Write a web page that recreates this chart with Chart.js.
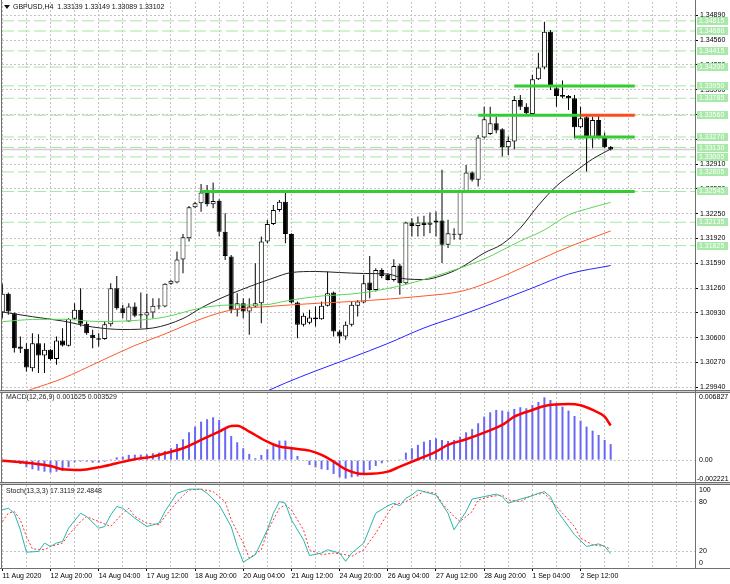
<!DOCTYPE html>
<html>
<head>
<meta charset="utf-8">
<script src="https://cdn.jsdelivr.net/npm/chart.js@4.4.0/dist/chart.umd.min.js"></script>
<style>
html,body{margin:0;padding:0;background:#fff;}
#wrap{position:relative;width:730px;height:584px;overflow:hidden;background:#fff;}
#wrap canvas{position:absolute;left:0;display:block;}
</style>
</head>
<body>
<div id="wrap">
  <canvas id="priceChart" width="730" height="391" style="top:0"></canvas>
  <canvas id="macdChart" width="730" height="92" style="top:391px"></canvas>
  <canvas id="stochChart" width="730" height="101" style="top:483px"></canvas>
</div>
<script>
// ---- data ----
const timeLabels = ["11 Aug 2020","12 Aug 20:00","14 Aug 04:00","17 Aug 12:00","18 Aug 20:00","20 Aug 04:00",
  "21 Aug 12:00","24 Aug 20:00","26 Aug 04:00","27 Aug 12:00","28 Aug 20:00","1 Sep 04:00","2 Sep 12:00"];
const labelEvery = 8; // bars between time labels

const opens = [
1.30935,1.31183,1.30926,1.30483,1.30452,1.30195,1.30527,1.30364,1.30439,1.30315,
1.30563,1.30492,1.30851,1.30970,1.30784,1.30638,1.30594,1.30581,1.30780,1.31258,
1.30993,1.30815,1.31015,1.30913,1.30895,1.30935,1.31028,1.31015,1.31316,1.31334,
1.31640,1.31923,1.32335,1.32388,1.32530,1.32375,1.32423,1.32011,1.31680,1.30970,
1.31059,1.30948,1.31015,1.31059,1.31878,1.32113,1.32299,1.32410,1.31980,1.31068,
1.30771,1.30800,1.30868,1.30846,1.31024,1.31201,1.30682,1.30616,1.30771,1.31024,
1.31068,1.31334,1.31236,1.31502,1.31436,1.31369,1.31560,1.31324,1.32131,1.32087,
1.32131,1.32102,1.32133,1.32159,1.31836,1.31982,1.31969,1.32545,1.32797,1.32700,
1.33262,1.33311,1.33453,1.33373,1.33134,1.33209,1.33763,1.33674,1.33577,1.34038,
1.34193,1.34671,1.33918,1.33829,1.33816,1.33785,1.33400,1.33533,1.33267,1.33497,
1.33267,1.33139];
const highs = [
1.31316,1.31201,1.30935,1.30616,1.30527,1.30660,1.30647,1.30527,1.30448,1.30616,
1.30727,1.30860,1.31059,1.31258,1.30815,1.30705,1.30660,1.30815,1.31325,1.31422,
1.31037,1.31059,1.31068,1.31201,1.31183,1.31125,1.31125,1.31325,1.31369,1.31746,
1.31980,1.32353,1.32410,1.32645,1.32632,1.32663,1.32441,1.32255,1.31700,1.31192,
1.31125,1.31125,1.31591,1.31945,1.32166,1.32366,1.32432,1.32530,1.31989,1.31081,
1.30926,1.30970,1.31015,1.31081,1.31480,1.31214,1.30705,1.30815,1.31081,1.31103,
1.31435,1.31688,1.31524,1.31524,1.31458,1.31643,1.31582,1.32144,1.32189,1.32211,
1.32222,1.32266,1.32279,1.32833,1.32168,1.32057,1.32567,1.32899,1.32810,1.33298,
1.33674,1.33674,1.33541,1.33386,1.33276,1.33816,1.33829,1.33719,1.34095,1.34392,
1.34804,1.34693,1.33940,1.34020,1.33829,1.33829,1.33674,1.33550,1.33541,1.33563,
1.33329,1.33149];
const lows = [
1.30860,1.30904,1.30403,1.30395,1.30151,1.30151,1.30129,1.30129,1.30297,1.30239,
1.30483,1.30483,1.30837,1.30749,1.30638,1.30461,1.30483,1.30572,1.30749,1.30970,
1.30860,1.30811,1.30873,1.30727,1.30713,1.30860,1.30979,1.31006,1.31303,1.31325,
1.31458,1.31878,1.32321,1.32277,1.32344,1.32321,1.31945,1.31635,1.30926,1.30882,
1.30860,1.30638,1.31006,1.30793,1.31856,1.32100,1.32277,1.31856,1.31059,1.30594,
1.30749,1.30780,1.30749,1.30837,1.31015,1.30616,1.30527,1.30572,1.30749,1.30882,
1.31059,1.31125,1.31214,1.31391,1.31360,1.31347,1.31170,1.31303,1.31945,1.31945,
1.31950,1.31991,1.31947,1.31592,1.31792,1.31902,1.31902,1.32531,1.32678,1.32611,
1.33253,1.33298,1.33320,1.33010,1.33032,1.33107,1.33630,1.33577,1.33563,1.34029,
1.34170,1.33896,1.33674,1.33785,1.33630,1.33253,1.33386,1.32810,1.33119,1.33253,
1.33121,1.33089];
const closes = [
1.31183,1.30948,1.30461,1.30452,1.30204,1.30527,1.30364,1.30439,1.30315,1.30563,
1.30496,1.30851,1.30970,1.30784,1.30660,1.30594,1.30572,1.30780,1.31258,1.30993,
1.30926,1.31015,1.30891,1.30895,1.30939,1.31024,1.31015,1.31316,1.31356,1.31640,
1.31936,1.32335,1.32388,1.32530,1.32375,1.32419,1.32011,1.31688,1.30970,1.31059,
1.30948,1.31015,1.31059,1.31878,1.32113,1.32299,1.32410,1.31980,1.31068,1.30771,
1.30891,1.30868,1.30846,1.31024,1.31192,1.30682,1.30616,1.30771,1.31037,1.31081,
1.31324,1.31236,1.31502,1.31422,1.31369,1.31555,1.31324,1.32131,1.32087,1.32131,
1.32100,1.32133,1.32159,1.31836,1.31991,1.31969,1.32545,1.32797,1.32700,1.33262,
1.33506,1.33453,1.33355,1.33134,1.33218,1.33763,1.33674,1.33586,1.34038,1.34193,
1.34671,1.33940,1.33816,1.33807,1.33785,1.33400,1.33519,1.33253,1.33497,1.33267,
1.33134,1.33102];

// moving averages: [bar, price]
const maBlack = [[0,1.30942],[5,1.30879],[10,1.30822],[15,1.30742],[20,1.30709],[25,1.30729],[30,1.30855],
  [33,1.30995],[36,1.31115],[40,1.31248],[45,1.31394],[48,1.31467],[52,1.31481],[56,1.31467],[60,1.31454],
  [64,1.31447],[67,1.31381],[70,1.31374],[73,1.31427],[76,1.31527],[80,1.31727],[83,1.31846],[86,1.32059],
  [89,1.32360],[92,1.32618],[95,1.32804],[98,1.32977],[101,1.33110]];
const maGreen = [[0,1.30813],[5,1.30842],[10,1.30845],[16,1.30815],[22,1.30829],[27,1.30875],[33,1.30995],
  [38,1.31035],[43,1.31035],[48,1.31101],[53,1.31155],[58,1.31181],[64,1.31254],[70,1.31374],[76,1.31527],
  [80,1.31647],[86,1.31886],[90,1.32033],[94,1.32232],[97,1.32312],[101,1.32400]];
const maOrange = [[3,1.29860],[5,1.29917],[10,1.30057],[16,1.30277],[22,1.30496],[27,1.30649],[33,1.30849],
  [38,1.30968],[43,1.31008],[53,1.31061],[58,1.31081],[70,1.31155],[76,1.31214],[80,1.31314],[86,1.31520],
  [92,1.31740],[97,1.31900],[101,1.32020]];
const maBlue = [[44,1.29891],[47,1.29997],[52,1.30157],[58,1.30336],[64,1.30523],[70,1.30729],[76,1.30895],
  [82,1.31075],[88,1.31261],[94,1.31447],[101,1.31560]];

// horizontal levels
const levelPrices = [1.34815,1.34680,1.34415,1.34200,1.33950,1.33785,1.33560,1.33270,1.33130,1.33005,
  1.32805,1.32545,1.32135,1.31825];
const bidPrice = 1.33102;
const segPrice = [1.32545,1.33950,1.33560,1.33560,1.33270];
const segFrom  = [33,85,79,96,95];
const segTo    = [105,105,96,105,105];
const priceTicks = [1.29940,1.30270,1.30600,1.30930,1.31260,1.31590,1.31920,1.32250,1.32580,1.32910,
  1.33240,1.33570,1.33900,1.34230,1.34560,1.34890];
const priceMin = 1.29904, priceMax = 1.35066;

// MACD
const macdHist = [
0.00009,-0.00005,-0.00015,-0.00039,-0.00073,-0.00093,-0.00106,-0.00117,-0.00127,-0.00117,
-0.00110,-0.00073,-0.00022,-0.00015,-0.00015,-0.00025,-0.00025,-0.00015,0.00009,0.00029,
0.00036,0.00053,0.00056,0.00056,0.00060,0.00070,0.00077,0.00094,0.00121,0.00165,
0.00212,0.00283,0.00341,0.00392,0.00416,0.00436,0.00409,0.00324,0.00246,0.00182,
0.00121,0.00063,0.00019,0.00053,0.00111,0.00155,0.00199,0.00199,0.00121,0.00043,
-0.00005,-0.00049,-0.00073,-0.00093,-0.00100,-0.00140,-0.00174,-0.00188,-0.00174,-0.00167,
-0.00151,-0.00100,-0.00059,-0.00032,-0.00012,-0.00005,0.00002,0.00077,0.00121,0.00155,
0.00188,0.00205,0.00222,0.00205,0.00195,0.00205,0.00239,0.00283,0.00317,0.00375,
0.00443,0.00487,0.00511,0.00504,0.00494,0.00521,0.00538,0.00527,0.00561,0.00592,
0.00639,0.00612,0.00578,0.00544,0.00504,0.00449,0.00402,0.00341,0.00300,0.00256,
0.00205,0.00163];
const macdSignal = [[0,-0.00005],[5,-0.00032],[8,-0.00059],[10,-0.00093],[13,-0.00100],[16,-0.00073],
  [19,-0.00032],[22,0.00009],[25,0.00036],[27,0.00070],[30,0.00121],[33,0.00205],[36,0.00290],[38,0.00348],
  [39,0.00351],[41,0.00290],[44,0.00188],[46,0.00138],[48,0.00121],[51,0.00097],[53,0.00053],[55,-0.00015],
  [57,-0.00093],[60,-0.00140],[64,-0.00117],[66,-0.00066],[69,0.00009],[72,0.00087],[74,0.00155],[77,0.00212],
  [80,0.00280],[83,0.00358],[85,0.00442],[88,0.00510],[90,0.00551],[94,0.00571],[96,0.00558],[98,0.00510],
  [100,0.00442],[101,0.00353]];
const macdMin = -0.002221, macdMax = 0.006827;

// Stochastic
const stochMain = [[0,70],[1,72],[2,66],[3,46],[4,19],[6,20],[7,30],[8,26],[9,30],[10,32],[11,48],[13,66],
  [14,62],[16,48],[17,50],[18,64],[19,74],[20,72],[22,60],[24,50],[26,54],[27,68],[29,90],[31,95],[33,95],
  [34,90],[36,76],[38,50],[39,26],[40,7],[42,16],[44,46],[45,66],[46,80],[47,78],[48,58],[50,34],[51,15],
  [53,18],[54,22],[56,18],[57,8],[58,18],[60,30],[61,48],[62,66],[64,75],[65,78],[66,75],[67,84],[68,88],
  [69,94],[70,92],[72,88],[74,66],[75,46],[77,68],[78,83],[80,86],[82,89],[83,86],[84,78],[86,83],[88,87],
  [89,90],[90,92],[91,86],[92,70],[94,50],[95,40],[97,26],[99,29],[100,26],[101,17.3]];
const stochSignal = [[0,56],[1,66],[2,68],[3,58],[4,38],[5,23],[7,22],[8,26],[10,30],[11,40],[13,56],[14,62],
  [16,56],[18,50],[20,66],[21,72],[22,62],[24,54],[26,52],[27,62],[29,80],[31,94],[33,95],[35,92],[37,80],
  [38,58],[40,30],[41,12],[43,22],[44,44],[46,72],[47,76],[48,70],[50,46],[51,22],[53,16],[55,18],[57,16],
  [58,14],[60,22],[62,42],[64,66],[65,76],[67,80],[69,88],[70,92],[72,90],[73,78],[75,62],[76,56],[78,68],
  [79,82],[81,86],[83,88],[84,82],[86,80],[88,88],[90,90],[91,82],[93,66],[95,50],[96,36],[98,28],[100,26],
  [101,22.5]];

const priceTitle = "GBPUSD,H4  1.33139 1.33149 1.33089 1.33102";
const macdTitle = "MACD(12,26,9) 0.001625 0.003529";
const stochTitle = "Stoch(13,3,3) 17.3119 22.4848";

// ---- chart setup ----
const FONT = '"Liberation Sans", Arial, sans-serif';
Chart.defaults.font.family = FONT;
Chart.defaults.font.size = 7;
Chart.defaults.color = '#000';
const X_MIN = -0.05, X_MAX = 115;
const GRID = '#c4c4c4';

function pts(pairs){ return pairs.map(p => ({x:p[0], y:p[1]})); }
function flat(v, a, b){ return [{x:a, y:v}, {x:b, y:v}]; }
function seg(ctx, x1, y1, x2, y2, c){
  ctx.strokeStyle = c; ctx.lineWidth = 1; ctx.setLineDash([]);
  ctx.beginPath(); ctx.moveTo(x1, y1); ctx.lineTo(x2, y2); ctx.stroke();
}

function xScale(show){
  return {
    type:'linear', min:X_MIN, max:X_MAX, offset:false,
    grid:{offset:false, color:GRID, drawTicks:show, tickLength:3,
      tickColor: c => (c.tick && c.tick.label) ? '#000' : 'rgba(0,0,0,0)'},
    border:{display:false, dash:[2,2]},
    ticks:{display:show, autoSkip:false, maxRotation:0, minRotation:0, align:'start', padding:1,
      callback: v => (v % labelEvery === 0 && timeLabels[v / labelEvery]) ? timeLabels[v / labelEvery] : ''},
    afterBuildTicks: s => { const t = []; for (let i = 0; i <= 112; i += 4) t.push({value:i}); s.ticks = t; },
    afterFit: s => { s.height = show ? 16 : 0; s.paddingLeft = 0; s.paddingRight = 0; }
  };
}
function yScale(min, max, tickVals, showLabels, fmt){
  return {
    type:'linear', position:'right', min:min, max:max,
    grid:{color:GRID, drawTicks:showLabels, tickLength:3, tickColor:'#000'},
    border:{display:false, dash:[2,2]},
    ticks:{display:showLabels, autoSkip:false, padding:2, callback: fmt || (v => v)},
    afterBuildTicks: s => { s.ticks = tickVals.map(v => ({value:v})); },
    afterFit: s => { s.width = 35; s.paddingTop = 0; s.paddingBottom = 0; }
  };
}
const baseOpts = {
  responsive:false, animation:false, events:[],
  plugins:{legend:{display:false}, tooltip:{enabled:false}}
};

// ---- price pane ----
const bodyColors = opens.map((o, i) => closes[i] >= o ? '#ffffff' : '#000000');
const priceSets = [];
levelPrices.forEach(p => priceSets.push({type:'line', data:flat(p, X_MIN, X_MAX), borderColor:'#a6e6a6',
  borderWidth:1, borderDash:[12,4], pointRadius:0, order:10}));
priceSets.push({type:'line', data:flat(bidPrice, X_MIN, X_MAX), borderColor:'#cfcfcf', borderWidth:1.5,
  pointRadius:0, order:9});
priceSets.push({type:'bar', data:lows.map((l, i) => ({x:i, y:[l, highs[i]]})), backgroundColor:'#000',
  borderWidth:0, grouped:false, maxBarThickness:1, categoryPercentage:1, barPercentage:1, inflateAmount:0, order:4});
priceSets.push({type:'bar', data:opens.map((o, i) => ({x:i, y:[o, closes[i]]})), backgroundColor:bodyColors,
  borderColor:'#000', borderWidth:1, borderSkipped:false, grouped:false, maxBarThickness:5,
  categoryPercentage:1, barPercentage:1, inflateAmount:0, minBarLength:1, order:3});
[[maBlue,'#2626ff'],[maOrange,'#ff5a28'],[maGreen,'#5ad65a'],[maBlack,'#222222']].forEach(m =>
  priceSets.push({type:'line', data:pts(m[0]), borderColor:m[1], borderWidth:1, pointRadius:0,
    cubicInterpolationMode:'monotone', order:2}));
const segColors = ['#33cc33','#33cc33','#33cc33','#ff4a1a','#33cc33'];
segPrice.forEach((p, k) => priceSets.push({type:'line', data:flat(p, segFrom[k], segTo[k]),
  borderColor:segColors[k], borderWidth:3, pointRadius:0, order:1}));

const priceExtras = {
  id:'priceExtras',
  afterDraw(chart){
    const ctx = chart.ctx, y = chart.scales.y;
    ctx.save();
    seg(ctx, 1.5, 0, 1.5, 391, '#707070');
    seg(ctx, 695.5, 0, 695.5, 391, '#707070');
    seg(ctx, 0, 390.5, 730, 390.5, '#707070');
    ctx.font = '7px ' + FONT; ctx.textBaseline = 'middle'; ctx.textAlign = 'left';
    levelPrices.forEach(p => {
      const py = Math.round(y.getPixelForValue(p));
      ctx.fillStyle = '#a8e8a8'; ctx.fillRect(697, py - 4, 31, 8);
      ctx.fillStyle = '#ffffff'; ctx.fillText(p.toFixed(5), 699, py);
    });
    ctx.fillStyle = '#111';
    ctx.beginPath(); ctx.moveTo(4, 5); ctx.lineTo(10, 5); ctx.lineTo(7, 9); ctx.closePath(); ctx.fill();
    ctx.fillText(priceTitle, 13, 7.5);
    ctx.restore();
  }
};

new Chart(document.getElementById('priceChart'), {
  type:'line',
  data:{datasets:priceSets},
  options:Object.assign({}, baseOpts, {
    layout:{padding:{left:2, right:0, top:2, bottom:1}},
    scales:{x:xScale(false), y:yScale(priceMin, priceMax, priceTicks, true, v => v.toFixed(5))}
  }),
  plugins:[priceExtras]
});

// ---- MACD pane ----
const macdExtras = {
  id:'macdExtras',
  afterDraw(chart){
    const ctx = chart.ctx, y = chart.scales.y;
    ctx.save();
    seg(ctx, 0, 0.5, 730, 0.5, '#d0d0d0');
    seg(ctx, 0, 1.5, 730, 1.5, '#707070');
    seg(ctx, 0, 91.5, 730, 91.5, '#707070');
    seg(ctx, 1.5, 1, 1.5, 92, '#707070');
    seg(ctx, 695.5, 0, 695.5, 92, '#707070');
    ctx.font = '7px ' + FONT; ctx.textBaseline = 'middle'; ctx.textAlign = 'left'; ctx.fillStyle = '#000';
    ctx.fillText(macdMax.toFixed(6), 699, 6);
    ctx.fillText('0.00', 699, Math.round(y.getPixelForValue(0)));
    ctx.fillText(macdMin.toFixed(6), 697, 88);
    ctx.fillStyle = '#222';
    ctx.fillText(macdTitle, 6, 6.5);
    ctx.restore();
  }
};
new Chart(document.getElementById('macdChart'), {
  type:'line',
  data:{datasets:[
    {type:'bar', data:macdHist.map((v, i) => ({x:i, y:v})), backgroundColor:'#6868f4', borderWidth:0,
      grouped:false, maxBarThickness:2, categoryPercentage:1, barPercentage:1, inflateAmount:0, order:2},
    {type:'line', data:pts(macdSignal), borderColor:'#ff0000', borderWidth:2.5, pointRadius:0,
      cubicInterpolationMode:'monotone', order:1}
  ]},
  options:Object.assign({}, baseOpts, {
    layout:{padding:{left:2, right:0, top:2, bottom:1}},
    scales:{x:xScale(false), y:yScale(macdMin, macdMax, [0], false)}
  }),
  plugins:[macdExtras]
});

// ---- Stochastic pane ----
const stochExtras = {
  id:'stochExtras',
  afterDraw(chart){
    const ctx = chart.ctx, y = chart.scales.y;
    ctx.save();
    seg(ctx, 0, 0.5, 730, 0.5, '#d0d0d0');
    seg(ctx, 0, 1.5, 730, 1.5, '#707070');
    seg(ctx, 0, 85.5, 730, 85.5, '#707070');
    seg(ctx, 1.5, 1, 1.5, 86, '#707070');
    seg(ctx, 695.5, 0, 695.5, 86, '#707070');
    ctx.font = '7px ' + FONT; ctx.textBaseline = 'middle'; ctx.textAlign = 'left'; ctx.fillStyle = '#000';
    ctx.fillText('100', 699, 7.5);
    ctx.fillText('80', 699, Math.round(y.getPixelForValue(80)));
    ctx.fillText('20', 699, Math.round(y.getPixelForValue(20)));
    ctx.fillText('0', 699, 80.5);
    ctx.fillStyle = '#222';
    ctx.fillText(stochTitle, 6, 8.5);
    ctx.restore();
  }
};
new Chart(document.getElementById('stochChart'), {
  type:'line',
  data:{datasets:[
    {data:pts(stochSignal), borderColor:'#ff3030', borderWidth:1, borderDash:[2,2], pointRadius:0, order:2},
    {data:pts(stochMain), borderColor:'#2ab5aa', borderWidth:1, pointRadius:0, order:1}
  ]},
  options:Object.assign({}, baseOpts, {
    layout:{padding:{left:2, right:0, top:2, bottom:0}},
    scales:{x:xScale(true), y:yScale(0, 100, [20, 80], false)}
  }),
  plugins:[stochExtras]
});
</script>
</body>
</html>
